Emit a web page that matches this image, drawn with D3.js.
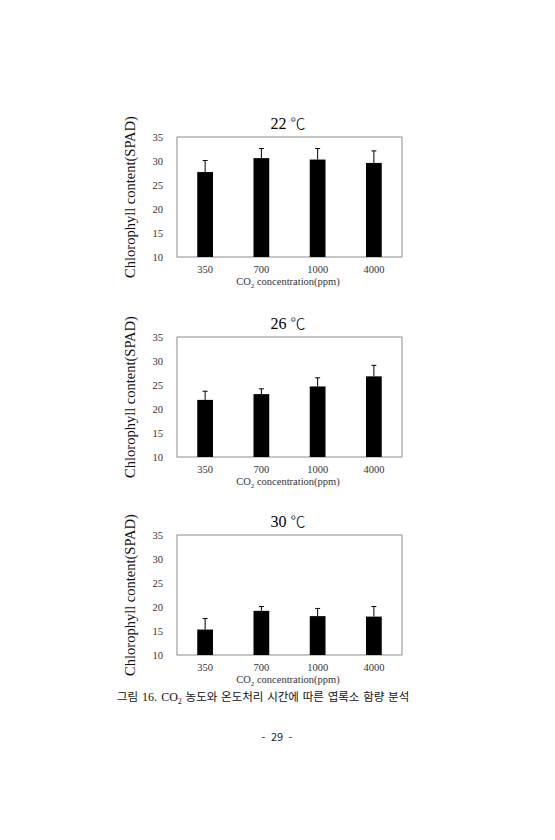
<!DOCTYPE html>
<html><head><meta charset="utf-8">
<script src="https://cdn.jsdelivr.net/npm/d3@7"></script>
<style>body{margin:0;background:#fff}</style>
</head><body>
<svg id="c" width="555" height="840"></svg>
<script>
const categories = ["350","700","1000","4000"];
const titles = ["22","26","30"];
const means22 = [27.7, 30.6, 30.3, 29.6];
const errs22  = [2.4, 2.0, 2.3, 2.5];
const means26 = [21.9, 23.1, 24.7, 26.8];
const errs26  = [1.8, 1.1, 1.8, 2.3];
const means30 = [15.3, 19.2, 18.1, 18.0];
const errs30  = [2.3, 0.9, 1.6, 2.1];
const yTicks = [10,15,20,25,30,35];

const series = [[means22, errs22],[means26, errs26],[means30, errs30]];
const tops = [137, 337, 535];
const left = 177, right = 402, h = 120;
const svg = d3.select("#c");
const serif = "Liberation Serif, Times New Roman, serif";
const cjk = "Noto Sans CJK KR, sans-serif";

series.forEach(([m, e], i) => {
  const top = tops[i];
  const g = svg.append("g");
  const x = d3.scaleBand().domain(categories).range([left, right]).paddingInner(0.72).paddingOuter(0.36);
  const y = d3.scaleLinear().domain([10, 35]).range([top + h, top]);
  g.append("rect").attr("x", left).attr("y", top).attr("width", right-left).attr("height", h)
    .attr("fill","none").attr("stroke","#8c8c8c").attr("stroke-width",1);
  const ya = d3.axisLeft(y).tickValues(yTicks).tickSize(0).tickPadding(14);
  const yg = g.append("g").attr("transform",`translate(${left},0)`).call(ya);
  yg.select(".domain").remove();
  yg.selectAll("text").attr("font-family", serif).attr("font-size", 10.5).attr("fill","#333");
  const xa = d3.axisBottom(x).tickSize(0).tickPadding(9);
  const xg = g.append("g").attr("transform",`translate(0,${top+h})`).call(xa);
  xg.select(".domain").remove();
  xg.selectAll("text").attr("font-family", serif).attr("font-size", 10.5).attr("fill","#333");
  categories.forEach((c, k) => {
    const cx = x(c) + x.bandwidth()/2;
    g.append("line").attr("x1",cx).attr("x2",cx).attr("y1",y(m[k])).attr("y2",y(m[k]+e[k])).attr("stroke","#000").attr("stroke-width",1);
    g.append("line").attr("x1",cx-2.5).attr("x2",cx+2.5).attr("y1",y(m[k]+e[k])).attr("y2",y(m[k]+e[k])).attr("stroke","#000").attr("stroke-width",1);
  });
  g.selectAll("rect.bar").data(m).enter().append("rect").attr("class","bar")
    .attr("x",(d,k)=>x(categories[k])).attr("width",x.bandwidth())
    .attr("y",d=>y(d)).attr("height",d=>y(10)-y(d)).attr("fill","#000");
  const t = g.append("text").attr("x",288).attr("y",top-8).attr("text-anchor","middle").attr("font-size",16);
  t.append("tspan").attr("font-family",serif).text(titles[i] + "  ");
  t.append("tspan").attr("font-family",cjk).attr("font-weight",300).attr("font-size",15).text("℃");
  const xl = g.append("text").attr("x",288).attr("y",top+h+28).attr("text-anchor","middle")
    .attr("font-family",serif).attr("font-size",10.5).attr("fill","#333");
  xl.append("tspan").text("CO");
  xl.append("tspan").attr("font-size",7).attr("dy",3).text("2");
  xl.append("tspan").attr("dy",-3).text(" concentration(ppm)");
  g.append("text").attr("transform",`translate(135,${top+h/2}) rotate(-90)`).attr("text-anchor","middle")
    .attr("font-family",serif).attr("font-size",14.5).attr("fill","#111").text("Chlorophyll content(SPAD)");
});

const cap = svg.append("text").attr("x",117).attr("y",701).attr("font-size",11.5)
  .attr("font-family",cjk).attr("fill","#111").attr("word-spacing",1.2);
cap.append("tspan").text("그림 ");
cap.append("tspan").attr("font-family",serif).attr("font-size",12).text("16. CO");
cap.append("tspan").attr("font-family",serif).attr("font-size",8).attr("dy",2.5).text("2");
cap.append("tspan").attr("dy",-2.5).text(" 농도와 온도처리 시간에 따른 엽록소 함량 분석");
svg.append("text").attr("x",277).attr("y",741).attr("text-anchor","middle").attr("font-size",11)
  .attr("font-family",cjk).attr("fill","#222").attr("word-spacing",3).text("- 29 -");
</script>
</body></html>
